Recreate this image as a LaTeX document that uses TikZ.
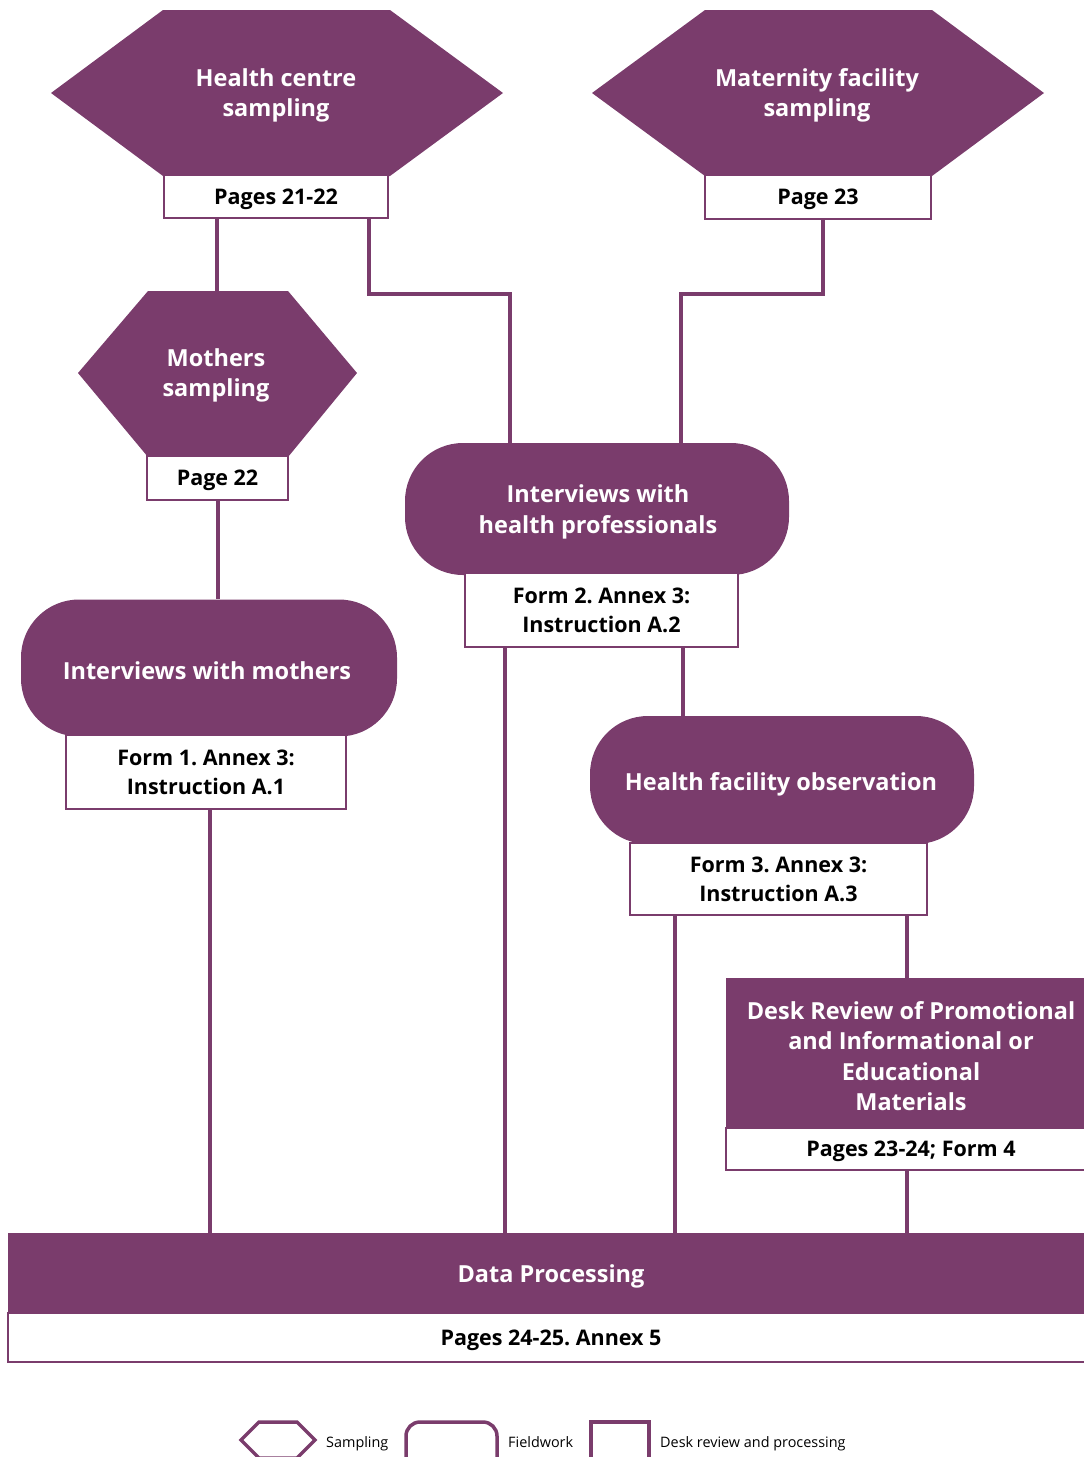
\documentclass[tikz,border=0pt]{standalone}
\usepackage{fontspec}
\setmainfont{Open Sans}
\frenchspacing
\definecolor{pur}{RGB}{122,60,108}
\begin{document}
\begin{tikzpicture}[x=1pt,y=-1pt,
  conn/.style={draw=pur,line width=4pt},
  hexshape/.style={fill=pur},
  wtext/.style={text=white,font=\bfseries\fontsize{23.5}{30.5}\selectfont,align=center,inner sep=0pt},
  pbox/.style={draw=pur,line width=2pt,fill=white,text=black,font=\bfseries\fontsize{21.5}{29}\selectfont,align=center,inner sep=0pt},
  oneline/.style={text depth=0pt},
  fwbox/.style={fill=pur,rounded corners=58pt,inner sep=0pt,wtext},
  dkbox/.style={fill=pur,inner sep=0pt,wtext},
  legtext/.style={font=\fontsize{14.4}{18}\selectfont,anchor=base west,inner sep=0pt},
  legline/.style={draw=pur,line width=3.5pt}
]
\useasboundingbox (0,0) rectangle (1084,1457);
\begin{scope}
\clip (0,0) rectangle (1084,1457);
% ---------- hexagons (sampling) ----------
\fill[hexshape] (163,10) -- (390,10) -- (503,93) -- (390,176) -- (163,176) -- (51,93) -- cycle;
\node[wtext] (hc) at (276,95.5) {Health centre\\sampling};
\node[pbox,oneline,minimum width=224pt,minimum height=43pt] (p2122) at (276,196.5) {Pages 21-22};

\fill[hexshape] (705,10) -- (932,10) -- (1044,93) -- (932,176) -- (705,176) -- (592,93) -- cycle;
\node[wtext] (mf) at (817,95.5) {Maternity facility\\sampling};
\node[pbox,oneline,minimum width=226pt,minimum height=44pt] (p23) at (818,197) {Page 23};

\fill[hexshape] (148,291) -- (288,291) -- (357,373) -- (288,457) -- (148,457) -- (78,373) -- cycle;
\coordinate (mstop) at (217,291);
\node[wtext] (ms) at (216,375.5) {Mothers\\sampling};
\node[pbox,oneline,minimum width=141pt,minimum height=44pt] (p22) at (217.5,478) {Page 22};

% ---------- fieldwork ----------
\node[fwbox,minimum width=384pt,minimum height=132pt] (ihp) at (597,509) {};
\node[wtext] (ihpt) at (598,512) {Interviews with\\health professionals};
\node[pbox,minimum width=273pt,minimum height=74pt] (f2) at (601.5,610) {Form 2. Annex 3:\\Instruction A.2};

\node[fwbox,minimum width=376pt,minimum height=137pt] (im) at (209,668) {};
\node[wtext] (imt) at (207,671) {Interviews with mothers};
\node[pbox,minimum width=280pt,minimum height=74pt] (f1) at (206,772) {Form 1. Annex 3:\\Instruction A.1};

\node[fwbox,minimum width=384pt,minimum height=128pt] (hfo) at (782,780) {};
\node[wtext] (hfot) at (781,784) {Health facility observation};
\node[pbox,minimum width=297pt,minimum height=72pt] (f3) at (778.5,879) {Form 3. Annex 3:\\Instruction A.3};

% ---------- desk review & processing ----------
\node[dkbox,minimum width=370pt,minimum height=151pt] (dr) at (911,1053.5) {};
\node[wtext] (drt) at (911,1056) {Desk Review of Promotional\\and Informational or\\Educational\\Materials};
\node[pbox,oneline,minimum width=370pt,minimum height=42pt] (p2324) at (911,1149) {Pages 23-24; Form 4};

\node[dkbox,minimum width=1086pt,minimum height=81pt] (dp) at (551,1273.5) {};
\node[wtext] (dpt) at (551,1276) {Data Processing};
\node[pbox,oneline,minimum width=1086pt,minimum height=49pt] (pdp) at (551,1337.5) {Pages 24-25. Annex 5};

% ---------- connectors ----------
\draw[conn] (p2122.south -| mstop) -- (mstop);
\draw[conn] ([xshift=-20pt]p2122.south east) -- ++(0,75) -| ([xshift=-87pt]ihp.north);
\draw[conn] ([xshift=5pt]p23.south) -- ++(0,74) -| ([xshift=84pt]ihp.north);
\draw[conn] (p22.south) -- (p22.south |- im.north);
\coordinate (a1) at ([xshift=4pt]f1.south);
\draw[conn] (a1) -- (a1 |- dp.north);
\coordinate (a2) at ([xshift=-96.5pt]f2.south);
\draw[conn] (a2) -- (a2 |- dp.north);
\coordinate (a3) at ([xshift=81.5pt]f2.south);
\draw[conn] (a3) -- (a3 |- hfo.north);
\coordinate (a4) at ([xshift=-103.5pt]f3.south);
\draw[conn] (a4) -- (a4 |- dp.north);
\coordinate (a5) at ([xshift=128.5pt]f3.south);
\draw[conn] (a5) -- (a5 |- dr.north);
\coordinate (a6) at ([xshift=-4pt]p2324.south);
\draw[conn] (a6) -- (a6 |- dp.north);

% ---------- legend ----------
\draw[legline] (241,1440) -- (259,1422) -- (297,1422) -- (315,1440) -- (297,1458) -- (259,1458) -- cycle;
\node[legtext] (lg1) at (326,1447) {Sampling};
\draw[legline,rounded corners=14pt] (406,1475) -- (406,1422) -- (497,1422) -- (497,1475);
\node[legtext] (lg2) at (508,1447) {Fieldwork};
\draw[legline] (591,1475) -- (591,1422) -- (649,1422) -- (649,1475);
\node[legtext] (lg3) at (660,1447) {Desk review and processing};
\end{scope}
\end{tikzpicture}
\end{document}
